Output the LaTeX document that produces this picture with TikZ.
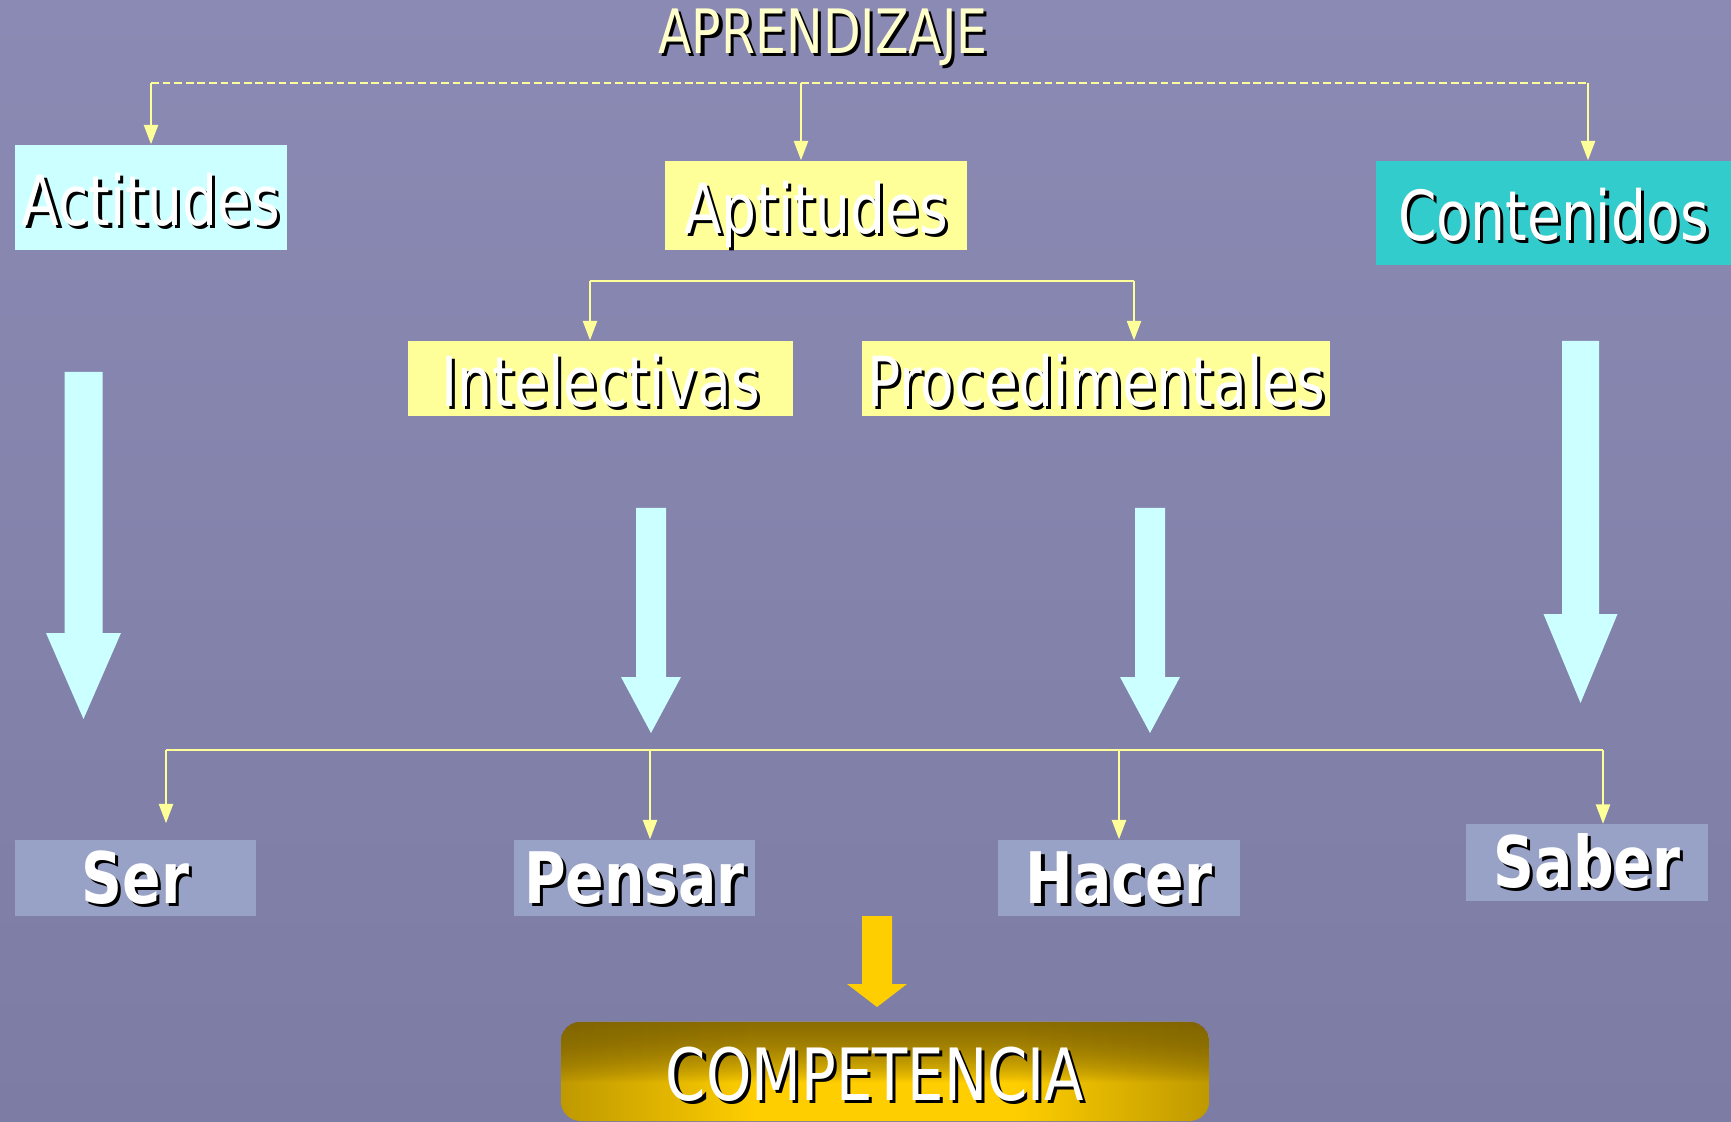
\documentclass[tikz,border=0pt]{standalone}
\usepackage{fontspec}
\setmainfont{DejaVu Sans}[FakeStretch=0.8]
\usetikzlibrary{arrows.meta}
\definecolor{cBack}{RGB}{138,138,180}
\definecolor{cBackLow}{RGB}{124,124,164}
\definecolor{cCyan}{RGB}{204,255,255}
\definecolor{cYel}{RGB}{255,255,153}
\definecolor{cTeal}{RGB}{51,204,204}
\definecolor{cMesh}{RGB}{152,162,198}
\definecolor{cGold}{RGB}{255,206,0}
\definecolor{cOlive}{RGB}{122,96,0}
\definecolor{cTitle}{RGB}{255,255,204}
\pgfdeclarehorizontalshading{compband}{100bp}{color(0bp)=(cOlive); color(9bp)=(cOlive); color(40bp)=(cGold); color(60bp)=(cGold); color(91bp)=(cOlive); color(100bp)=(cOlive)}
% text with a dark drop shadow
\newcommand\shd[2][white]{\rlap{\kern0.9pt\raisebox{-0.9pt}{\color{black}#2}}{\color{#1}#2}}
% cx, half shaft, top, head start, half head, tip
\newcommand\blockarrow[7]{\fill[#1] ({#2-#3},#4) -- ({#2+#3},#4) -- ({#2+#3},#5) -- ({#2+#6},#5) -- (#2,#7) -- ({#2-#6},#5) -- ({#2-#3},#5) -- cycle;}
\tikzset{
  box/.style={inner sep=0pt,text height=0.55cm,text depth=0pt,font=\fontsize{19.6pt}{22pt}\selectfont},
  meshbox/.style={fill=cMesh,inner sep=0pt,minimum width=2.41cm,minimum height=0.76cm,text height=0.5cm,text depth=0pt,font=\fontsize{20.2pt}{22pt}\selectfont\bfseries},
  link/.style={cYel,line width=0.6pt,-{Triangle[width=4pt,length=5.5pt]}},
  dlink/.style={cYel,line width=0.6pt,dash pattern=on 2.2pt off 1.1pt}
}
\begin{document}
\begin{tikzpicture}[x=0.01cm,y=-0.01cm]
\clip (0,0) rectangle (1731,1122);
\fill[top color=cBack,bottom color=cBackLow] (0,0) rectangle (1731,1122);
% big arrows
\blockarrow{cCyan}{83.5}{19}{372}{633}{37.5}{719}
\blockarrow{cCyan}{651}{15}{508}{677}{30}{733}
\blockarrow{cCyan}{1150}{15}{508}{677}{30}{733}
\blockarrow{cCyan}{1580.5}{18.5}{341}{614}{37}{703}
\blockarrow{cGold}{877}{15}{916}{984}{30}{1007}
% nodes
\node[inner sep=0pt,text height=0.43cm,text depth=0pt,font=\fontsize{17.4pt}{20pt}\selectfont] (apr) at (823,32) {\shd[cTitle]{APRENDIZAJE}};
\node[box,fill=cCyan,minimum width=2.72cm,minimum height=1.05cm] (act) at (151,197.5) {\shd{Actitudes}};
\node[box,fill=cYel,minimum width=3.02cm,minimum height=0.89cm] (apt) at (816,205.5) {\shd{Aptitudes}};
\node[box,fill=cTeal,minimum width=3.55cm,minimum height=1.04cm] (cont) at (1553.5,213) {\shd{Contenidos}};
\node[box,fill=cYel,minimum width=3.85cm,minimum height=0.75cm] (int) at (600.5,378.5) {\shd{Intelectivas}};
\node[box,fill=cYel,minimum width=4.68cm,minimum height=0.75cm] (proc) at (1096,378.5) {\shd{Procedimentales}};
\node[meshbox] (ser) at (135.5,878) {\shd{Ser}};
\node[meshbox] (pen) at (634.5,878) {\shd{Pensar}};
\node[meshbox] (hac) at (1119,878) {\shd{Hacer}};
\node[meshbox] (sab) at (1587,862.5) {\shd{Saber}};
\node[inner sep=0pt,minimum width=6.48cm,minimum height=0.99cm,rounded corners=0.2cm,shading=compband,
  path picture={\foreach \k in {1,...,30}
    \fill[cOlive,opacity=0.055,sharp corners] (path picture bounding box.north west) rectangle ([yshift=-\k*0.02cm]path picture bounding box.north east);},
  text height=0.57cm,text depth=0pt,font=\fontsize{20.5pt}{22pt}\selectfont] (comp) at (885,1071.5) {\shd{COMPETENCIA}\hspace*{0.2cm}};
% connectors
\coordinate (t1) at (151,83);
\coordinate (t2) at (801,83);
\coordinate (t3) at (1588,83);
\draw[dlink] (t1) -- (t3);
\draw[link] (t1) -- (t1 |- act.north);
\draw[link] (t2) -- (t2 |- apt.north);
\draw[link] (t3) -- (t3 |- cont.north);
\coordinate (m1) at (590,281);
\coordinate (m2) at (1134,281);
\draw[cYel,line width=0.6pt] (m1) -- (m2);
\draw[link] (m1) -- (m1 |- int.north);
\draw[link] (m2) -- (m2 |- proc.north);
\coordinate (b1) at (166,750);
\coordinate (b2) at (650,750);
\coordinate (b3) at (1119,750);
\coordinate (b4) at (1603,750);
\draw[cYel,line width=0.6pt] (b1) -- (b4);
\draw[link,shorten >=0.16cm] (b1) -- (b1 |- ser.north);
\draw[link] (b2) -- (b2 |- pen.north);
\draw[link] (b3) -- (b3 |- hac.north);
\draw[link] (b4) -- (b4 |- sab.north);
\end{tikzpicture}
\end{document}
